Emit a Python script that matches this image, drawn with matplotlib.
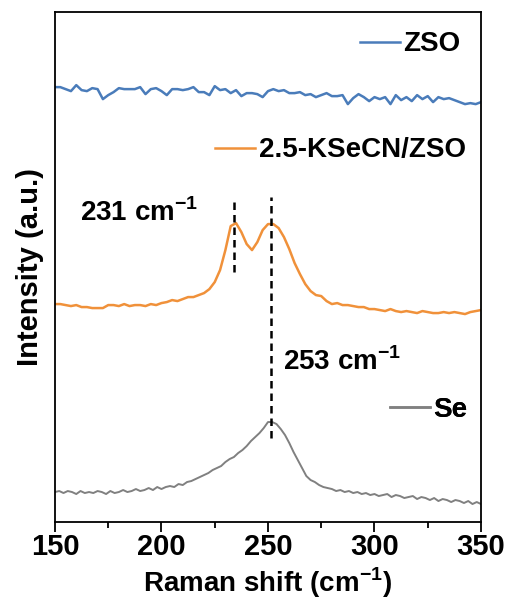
import numpy as np
import matplotlib
matplotlib.use('Agg')
import matplotlib.pyplot as plt
from matplotlib.lines import Line2D

plt.rcParams['font.family'] = 'Liberation Sans'
plt.rcParams['font.weight'] = 'bold'
plt.rcParams['mathtext.fontset'] = 'custom'
plt.rcParams['mathtext.rm'] = 'Liberation Sans'
plt.rcParams['mathtext.bf'] = 'Liberation Sans:bold'

# raman shift grids (cm-1)
x_zso = np.arange(150, 350.1, 2.5)
x_ksecn = np.arange(150, 350.1, 2.5)
x_se = np.arange(150, 350.1, 2.0)

# intensities (a.u., already offset as in the figure)
zso = [435, 435, 433, 431, 437, 432, 431, 434, 433, 423,
       427, 430, 434, 433, 433, 433, 435, 428, 433, 434,
       431, 427, 433, 433, 432, 433, 435, 430, 430, 427,
       436, 432, 433, 429, 432, 426, 429, 429, 428, 425,
       431, 433, 431, 432, 429, 429, 430, 427, 428, 425,
       427, 429, 426, 426, 427, 418, 424, 428, 425, 421,
       425, 423, 425, 418, 427, 422, 425, 421, 427, 423,
       426, 420, 425, 423, 424, 422, 420, 418, 419, 418,
       420]

ksecn = [218, 218, 217, 216, 217, 215, 215, 214, 214, 214,
         217, 217, 216, 218, 216, 217, 217, 216, 218, 217,
         219, 220, 222, 221, 223, 225, 225, 227, 229, 233,
         240, 252, 272, 296, 299, 290, 278, 272, 280, 292,
         298, 298, 294, 285, 273, 259, 248, 238, 231, 227,
         226, 221, 218, 219, 217, 217, 216, 215, 215, 213,
         213, 212, 211, 213, 211, 210, 211, 210, 209, 211,
         210, 209, 209, 210, 209, 210, 209, 208, 210, 211,
         212]

se = [30, 31, 29, 31, 30, 28, 31, 29, 30, 29,
      31, 30, 28, 31, 29, 30, 32, 30, 31, 33,
      31, 32, 34, 32, 35, 33, 35, 36, 35, 38,
      37, 40, 41, 43, 45, 47, 49, 52, 54, 56,
      60, 63, 65, 69, 72, 76, 81, 85, 89, 94,
      100, 100, 98, 93, 87, 79, 70, 62, 54, 46,
      42, 40, 37, 35, 34, 33, 31, 32, 30, 31,
      29, 30, 28, 29, 27, 28, 26, 27, 28, 25,
      27, 26, 24, 25, 26, 23, 25, 24, 22, 24,
      21, 23, 22, 20, 22, 21, 19, 21, 18, 20,
      18]

labels = ['ZSO', '2.5-KSeCN/ZSO', 'Se']
colors = ['#4a7cba', '#f0913a', '#808080']

peak_x = [234, 251.4]
peak_y0 = [250, 84]
peak_y1 = [325, 325]
peak_text = [r'231 cm$^{\mathbf{-1}}$', r'253 cm$^{\mathbf{-1}}$']

fs = 20

fig = plt.figure(figsize=(5.09, 6.07), dpi=100)
ax = fig.add_axes([0.108, 0.140, 0.837, 0.840])

ax.plot(x_zso, zso, color=colors[0], lw=1.8)
ax.plot(x_ksecn, ksecn, color=colors[1], lw=1.8)
ax.plot(x_se, se, color=colors[2], lw=1.4)

for px, y0, y1 in zip(peak_x, peak_y0, peak_y1):
    ax.plot([px, px], [y0, y1], color='black', lw=1.8, ls=(0, (3, 2)))

ax.text(161.7, 309, peak_text[0], fontsize=fs, fontweight='bold', va='center')
ax.text(257, 160, peak_text[1], fontsize=fs, fontweight='bold', va='center')

# separate legend entries
pos = [(0.716, 0.937), (0.376, 0.729), (0.786, 0.22)]
for lab, c, p in zip(labels, colors, pos):
    h = Line2D([], [], color=c, lw=1.8)
    leg = ax.legend([h], [lab], loc='center left', bbox_to_anchor=p,
                    frameon=False, handlelength=1.45, handletextpad=0.12,
                    borderpad=0, borderaxespad=0,
                    prop={'size': fs, 'weight': 'bold'})
    ax.add_artist(leg)

ax.set_xlim(150, 350)
ax.set_ylim(0, 510)
ax.set_xticks([150, 200, 250, 300, 350])
ax.set_xticks([175, 225, 275, 325], minor=True)
ax.set_yticks([])
ax.tick_params(axis='x', which='major', length=7, width=1.3, labelsize=21, pad=1)
ax.tick_params(axis='x', which='minor', length=4, width=1.3)
for s in ax.spines.values():
    s.set_linewidth(1.3)

ax.set_xlabel(r'Raman shift (cm$^{\mathbf{-1}}$)', fontsize=fs, fontweight='bold', labelpad=3)
ax.set_ylabel('Intensity (a.u.)', fontsize=21, fontweight='bold', labelpad=8)

fig.savefig('out.png', dpi=100)
